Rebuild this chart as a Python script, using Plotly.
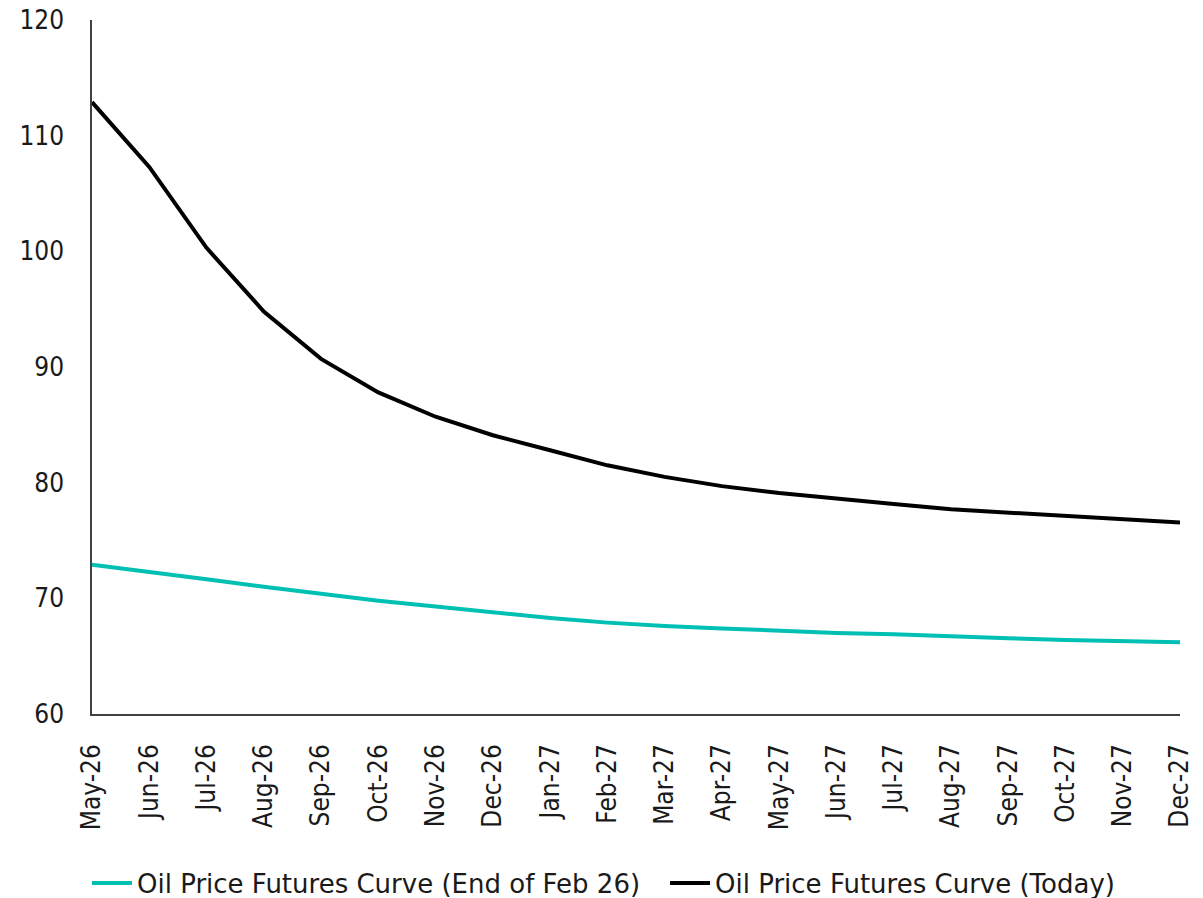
import plotly.graph_objects as go

# Contract months on the futures strip
months = ["May-26", "Jun-26", "Jul-26", "Aug-26", "Sep-26", "Oct-26", "Nov-26",
          "Dec-26", "Jan-27", "Feb-27", "Mar-27", "Apr-27", "May-27", "Jun-27",
          "Jul-27", "Aug-27", "Sep-27", "Oct-27", "Nov-27", "Dec-27"]

# Futures curve at end of February 2026
curve_end_feb = [72.9, 72.3, 71.65, 71.0, 70.4, 69.8, 69.3, 68.8, 68.3, 67.9,
                 67.6, 67.4, 67.2, 67.0, 66.9, 66.7, 66.55, 66.4, 66.3, 66.2]

# Futures curve today
curve_today = [112.9, 107.3, 100.3, 94.8, 90.7, 87.8, 85.7, 84.1, 82.8, 81.5,
               80.5, 79.7, 79.1, 78.6, 78.15, 77.7, 77.4, 77.1, 76.85, 76.55]

y_ticks = [60, 70, 80, 90, 100, 110, 120]

TICK_FONT = "DejaVu Sans Condensed, Roboto, sans-serif"
LEGEND_FONT = "DejaVu Sans, Roboto, sans-serif"

fig = go.Figure()
fig.add_trace(go.Scatter(
    x=months, y=curve_end_feb, mode="lines",
    name="Oil Price Futures Curve (End of Feb 26)",
    line=dict(color="#00BFB3", width=4),
    legend="legend",
))
fig.add_trace(go.Scatter(
    x=months, y=curve_today, mode="lines",
    name="Oil Price Futures Curve (Today)",
    line=dict(color="#000000", width=4),
    legend="legend2",
))

legend_style = dict(
    orientation="h", xref="container", xanchor="left",
    yref="container", y=0.0167, yanchor="middle",
    font=dict(family=LEGEND_FONT, size=26, color="#1a1a1a"),
    itemwidth=40, bgcolor="rgba(0,0,0,0)",
)

fig.update_layout(
    width=1203, height=898,
    margin=dict(l=92, r=23, t=20, b=184),
    paper_bgcolor="white", plot_bgcolor="white",
    font=dict(family=TICK_FONT, size=26, color="#1a1a1a"),
    showlegend=True,
    legend=dict(x=0.0723, **legend_style),
    legend2=dict(x=0.5528, **legend_style),
)

fig.update_xaxes(
    type="category", range=[0, len(months) - 1], automargin=False,
    tickangle=-90, showgrid=False, zeroline=False,
    showline=True, linecolor="#404040", linewidth=1.5,
    ticks="", ticklabelstandoff=18,
    tickfont=dict(family=TICK_FONT, size=26, color="#1a1a1a"),
)
fig.update_yaxes(
    range=[60, 120], tickvals=y_ticks, automargin=False,
    showgrid=False, zeroline=False,
    showline=True, linecolor="#404040", linewidth=1.5,
    ticks="", ticklabelstandoff=21,
    tickfont=dict(family=TICK_FONT, size=26, color="#1a1a1a"),
)

fig.write_html("out.html")
